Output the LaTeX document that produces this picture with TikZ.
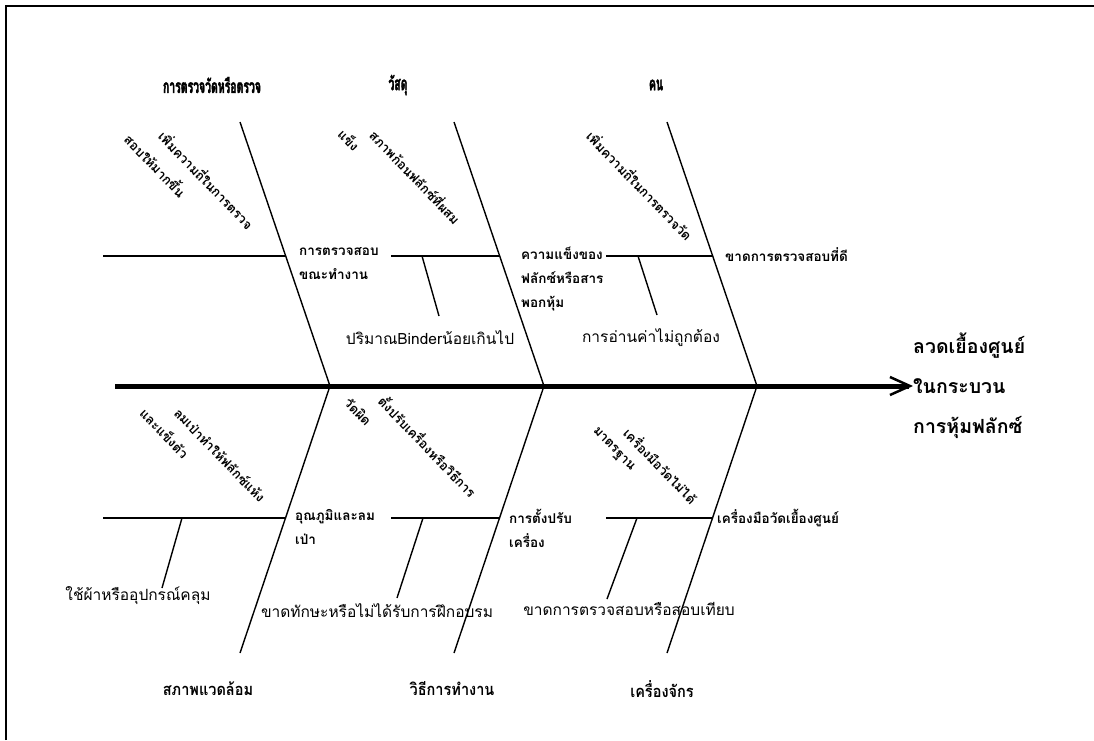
\documentclass[tikz,border=0pt]{standalone}
\usepackage{fontspec}
\usetikzlibrary{arrows.meta,calc}
\newfontfamily\thc[Script=Thai,FakeStretch=0.55,FakeBold=2]{Loma Bold}
\newfontfamily\thn[Script=Thai,FakeStretch=0.88]{Loma Bold}
\newfontfamily\thb[Script=Thai]{Loma Bold}
\newfontfamily\thr[Script=Thai]{Loma}
\begin{document}
\begin{tikzpicture}[x=1pt,y=-1pt,
  bone/.style={line width=1.4pt},
  spine/.style={line width=5pt,-{Straight Barb[length=20pt,width=18pt,line width=2.5pt]}},
  frame/.style={line width=2pt},
  head/.style={font=\thc\fontsize{19}{22}\selectfont,inner sep=0pt},
  bhead/.style={font=\thn\fontsize{16.5}{20}\selectfont,inner sep=0pt},
  lab/.style={font=\thb\fontsize{13.5}{24}\selectfont,inner sep=0pt,align=left,anchor=north west},
  diag/.style={font=\thb\fontsize{13}{15}\selectfont,inner sep=0pt,anchor=west,rotate=-46},
  reg/.style={font=\thr\fontsize{15.5}{18}\selectfont,inner sep=0pt},
  effect/.style={font=\thb\fontsize{19.5}{40}\selectfont,inner sep=0pt,align=left,anchor=west}]
\useasboundingbox (0,0) rectangle (1094,740);
\fill[white] (0,0) rectangle (1094,740);
% frame
\coordinate (fa) at (6,740); \coordinate (fb) at (6,6); \coordinate (fc) at (1094,6);
\draw[frame] (fa) -- (fb) -- (fc);
% spine
\coordinate (tail) at (115,386);
\node[effect] (eff) at (913,386) {ลวดเยื้องศูนย์\\ในกระบวน\\การหุ้มฟลักซ์};
\draw[spine] (tail) -- (eff.west);
% junctions
\coordinate (j1) at (330,386); \coordinate (j2) at (544,386); \coordinate (j3) at (757,386);
% top bones
\coordinate (t1) at (240,122); \coordinate (t2) at (454,122); \coordinate (t3) at (667,122);
\draw[bone] (t1) -- (j1); \draw[bone] (t2) -- (j2); \draw[bone] (t3) -- (j3);
% bottom bones
\coordinate (b1) at (240,653); \coordinate (b2) at (454,653); \coordinate (b3) at (667,653);
\draw[bone] (j1) -- (b1); \draw[bone] (j2) -- (b2); \draw[bone] (j3) -- (b3);
% headings
\node[head] (h1) at (212,85) {การตรวจวัดหรือตรวจ};
\node[head] (h2) at (398,85) {วัสดุ};
\node[head] (h3) at (656,85) {คน};
\node[bhead] (h4) at (208,689) {สภาพแวดล้อม};
\node[bhead] (h5) at (452,689) {วิธีการทำงาน};
\node[bhead] (h6) at (662,689) {เครื่องจักร};
% top sub-branches
\coordinate (ta1) at (103,256); \coordinate (tb1) at (286,256);
\coordinate (ta2) at (391,256); \coordinate (tb2) at (500,256);
\coordinate (ta3) at (606,256); \coordinate (tb3) at (713,256);
\draw[bone] (ta1) -- (tb1); \draw[bone] (ta2) -- (tb2); \draw[bone] (ta3) -- (tb3);
\node[reg] (c2) at (430,338) {ปริมาณBinderน้อยเกินไป};
\node[reg] (c3) at (651,338) {การอ่านค่าไม่ถูกต้อง};
\coordinate (tc2) at (422,256); \coordinate (tc3) at (638,256);
\coordinate (td2) at (439,316); \coordinate (td3) at (657,315);
\draw[bone] (tc2) -- (td2);
\draw[bone] (tc3) -- (td3);
% labels top
\node[lab] (l1) at (299,247) {การตรวจสอบ\\ขณะทำงาน};
\node[lab] (l2) at (521,247) {ความแข็งของ\\ฟลักซ์หรือสาร\\พอกหุ้ม};
\node[lab] (l3) at (725,247) {ขาดการตรวจสอบที่ดี};
% diagonal top
\node[diag] (d1) at (162,133) {เพิ่มความถี่ในการตรวจ};
\node[diag] (d2) at (128,136) {สอบให้มากขึ้น};
\node[diag] (d3) at (373,132) {สภาพก้อนฟลักซ์ที่ผสม};
\node[diag] (d4) at (341,131) {แข็ง};
\node[diag] (d5) at (590,133) {เพิ่มความถี่ในการตรวจวัด};
% bottom sub-branches
\coordinate (ba1) at (103,518); \coordinate (bb1) at (285,518);
\coordinate (ba2) at (391,518); \coordinate (bb2) at (499,518);
\coordinate (ba3) at (606,518); \coordinate (bb3) at (712,518);
\draw[bone] (ba1) -- (bb1); \draw[bone] (ba2) -- (bb2); \draw[bone] (ba3) -- (bb3);
\node[reg] (e1) at (138,596) {ใช้ผ้าหรืออุปกรณ์คลุม};
\node[reg] (e2) at (377,611) {ขาดทักษะหรือไม่ได้รับการฝึกอบรม};
\node[reg] (e3) at (629,609) {ขาดการตรวจสอบหรือสอบเทียบ};
\coordinate (bc1) at (182,518); \coordinate (bc2) at (423,518); \coordinate (bc3) at (637,518);
\coordinate (bd1) at (162,588); \coordinate (bd2) at (397,598); \coordinate (bd3) at (607,599);
\draw[bone] (bc1) -- (bd1); \draw[bone] (bc2) -- (bd2); \draw[bone] (bc3) -- (bd3);
% labels bottom
\node[lab] (m1) at (295,509) {อุณภูมิและลม\\เป่า};
\node[lab] (m2) at (509,509) {การตั้งปรับ\\เครื่อง};
\node[lab] (m3) at (717,509) {เครื่องมือวัดเยื้องศูนย์};
% diagonal bottom
\node[diag] (g1) at (177,410) {ลมเป่าทำให้ฟลักซ์แห้ง};
\node[diag] (g2) at (143,410) {และแข็งตัว};
\node[diag] (g3) at (382,398) {ตั้งปรับเครื่องหรือวิธีการ};
\node[diag] (g4) at (347,400) {วัดผิด};
\node[diag] (g5) at (627,430) {เครื่องมือวัดไม่ได้};
\node[diag] (g6) at (594,430) {มาตรฐาน};
\end{tikzpicture}
\end{document}
